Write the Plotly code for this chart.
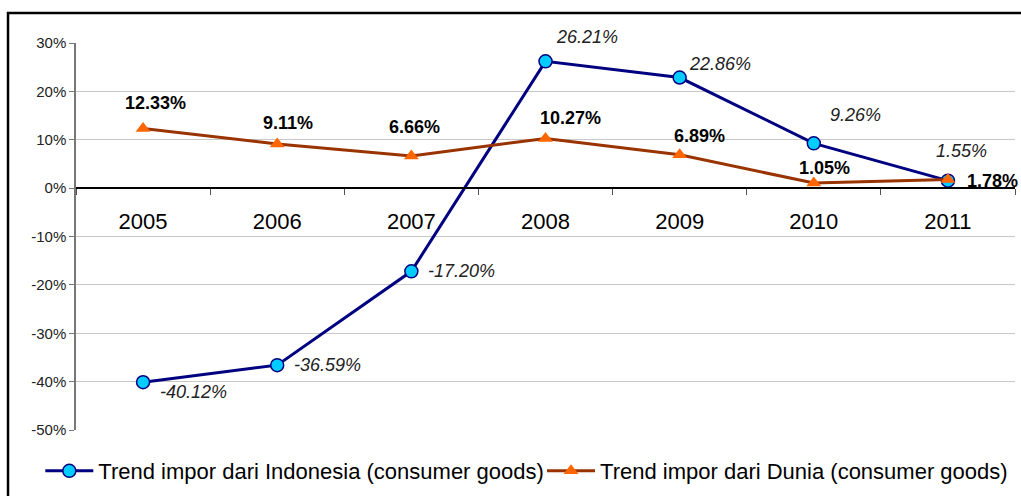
import plotly.graph_objects as go

years = ["2005", "2006", "2007", "2008", "2009", "2010", "2011"]
indonesia = [-40.12, -36.59, -17.20, 26.21, 22.86, 9.26, 1.55]
dunia = [12.33, 9.11, 6.66, 10.27, 6.89, 1.05, 1.78]
y_ticks = [30, 20, 10, 0, -10, -20, -30, -40, -50]

name_indo = "Trend impor dari Indonesia (consumer goods)"
name_dunia = "Trend impor dari Dunia (consumer goods)"

# label offsets in pixels (dx, dy) for each point
indo_offsets = [(50, -10), (50, 0), (50, 0), (41, 24), (40, 14), (42, 28), (14, 30)]
dunia_offsets = [(12, 25), (11, 21), (3, 29), (25, 20), (20, 19), (11, 15), (45, -1)]

FONT = "Liberation Sans, Arial, sans-serif"

fig = go.Figure()
fig.add_trace(go.Scatter(
    x=years, y=indonesia, name=name_indo, mode="lines+markers",
    line=dict(color="#000080", width=3),
    marker=dict(symbol="circle", size=13, color="#00CCFF",
                line=dict(color="#000080", width=1.5)),
    legend="legend",
))
fig.add_trace(go.Scatter(
    x=years, y=dunia, name=name_dunia, mode="lines+markers",
    line=dict(color="#993300", width=3),
    marker=dict(symbol="triangle-up", size=13, color="#FF6600",
                line=dict(width=0)),
    legend="legend2",
))

# category axes place annotations by category index
annotations = []
for i, (v, (dx, dy)) in enumerate(zip(indonesia, indo_offsets)):
    annotations.append(dict(
        x=i, y=v, xref="x", yref="y", text=f"<i>{v:.2f}%</i>",
        showarrow=False, xshift=dx, yshift=dy,
        font=dict(family=FONT, size=18, color="#222222"),
    ))
for i, (v, (dx, dy)) in enumerate(zip(dunia, dunia_offsets)):
    annotations.append(dict(
        x=i, y=v, xref="x", yref="y", text=f"<b>{v:.2f}%</b>",
        showarrow=False, xshift=dx, yshift=dy,
        font=dict(family=FONT, size=18, color="#000000"),
    ))

y_min, y_max = -50, 30
zero_pos = (0 - y_min) / (y_max - y_min)

legend_style = dict(
    orientation="h", xanchor="left", y=-0.106, yanchor="middle",
    font=dict(family=FONT, size=22, color="#000000"),
    itemwidth=48, bgcolor="rgba(0,0,0,0)",
)

fig.update_layout(
    width=1021, height=496,
    margin=dict(l=76, r=6, t=43, b=66, autoexpand=False),
    paper_bgcolor="white", plot_bgcolor="white",
    font=dict(family=FONT, color="#000000"),
    showlegend=True,
    legend=dict(x=-0.038, **legend_style),
    legend2=dict(x=0.4963, **legend_style),
    xaxis=dict(
        type="category", anchor="free", position=zero_pos,
        showline=True, linecolor="#000000", linewidth=1.5,
        ticks="outside", tickson="boundaries", ticklen=6, tickcolor="#555555",
        ticklabelstandoff=14,
        tickfont=dict(family=FONT, size=22, color="#000000"),
        showgrid=False, zeroline=False,
        range=[-0.5, 6.5],
    ),
    yaxis=dict(
        range=[y_min, y_max], tickvals=y_ticks,
        ticktext=[f"{t}%" for t in y_ticks],
        showline=True, linecolor="#777777", linewidth=1.5,
        ticks="outside", ticklen=5, tickcolor="#777777",
        tickfont=dict(family=FONT, size=15, color="#222222"),
        showgrid=True, gridcolor="#c8c8c8", gridwidth=1,
        zeroline=False,
    ),
    annotations=annotations,
    shapes=[dict(
        type="rect", xref="paper", yref="paper",
        x0=-0.0724, x1=1.05, y0=-0.3, y1=1.0775,
        line=dict(color="#000000", width=2.5), fillcolor="rgba(0,0,0,0)",
        layer="above",
    )],
)

fig.write_html("out.html")
